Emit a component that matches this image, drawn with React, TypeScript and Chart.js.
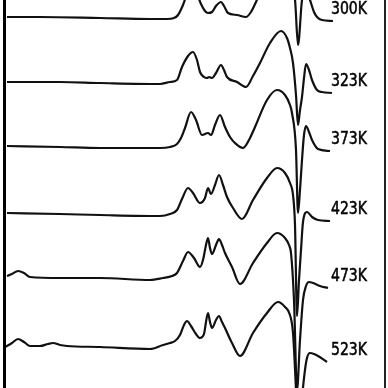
import React, { useEffect, useRef } from "react";
import { Chart, registerables } from "chart.js";

Chart.register(...registerables);

// Temperatures of the stacked spectra (top to bottom)
const temperatures = ["300K", "323K", "373K", "423K", "473K", "523K"];

// Vertical offset of each spectrum's baseline (figure units, bottom = 0)
const baselineOffsets = [370, 305, 241, 174, 111, 42];

// Each spectrum: [field (arb. units), intensity relative to its baseline]
const trace300K: [number, number][] = [
  [7, 1], [40, 1], [100, 0], [150, -1], [167, -1], [174, 0], [178, 3], [183, 13],
  [187, 24], [192, 31], [197, 24], [201, 14], [205, 7], [208, 5], [212, 6], [216, 12],
  [221, 16], [224, 12], [228, 5], [237, 3], [246, 1], [251, 6], [256, 16], [262, 30],
  [270, 45], [280, 53], [286, 48], [291, 28], [295, 18], [298, -27], [302, 18], [306, 28],
  [310, 18], [314, 6], [317, 1], [322, -2], [333, -3],
];
const trace323K: [number, number][] = [
  [7, 1], [60, 1], [100, 0], [160, -1], [170, 1], [177, 3], [182, 16], [188, 27],
  [193, 31], [197, 23], [200, 11], [204, 6], [207, 5], [209, 6], [212, 5], [216, 10],
  [221, 18], [224, 13], [227, 6], [237, 1], [246, -4], [253, 7], [260, 20], [270, 40],
  [281, 52], [287, 45], [290, 35], [293, 20], [296, -12], [298, -42], [300, -27], [302, -14],
  [304, 5], [306, 19], [309, 13], [312, 3], [317, -7], [322, -9], [332, -10],
];
const trace373K: [number, number][] = [
  [7, 1], [60, 0], [100, -1], [160, -1], [170, 0], [177, 3], [181, 9], [185, 19],
  [191, 35], [196, 27], [202, 12], [208, 14], [211, 12], [215, 22], [220, 32], [225, 20],
  [230, 10], [235, 4], [243, -1], [249, 7], [255, 20], [267, 47], [277, 57], [285, 52],
  [290, 42], [292, 34], [296, -3], [298, -66], [300, -43], [302, -13], [304, 12], [306, 21],
  [309, 15], [312, 7], [318, -2], [330, -4],
];
const trace423K: [number, number][] = [
  [7, 1], [60, 0], [100, -1], [160, -2], [170, 0], [177, 4], [182, 15], [188, 26],
  [193, 21], [200, 11], [205, 16], [208, 26], [211, 20], [215, 29], [219, 39], [223, 29],
  [227, 17], [233, 6], [242, -5], [253, 14], [267, 36], [277, 46], [285, 41], [290, 31],
  [293, 19], [295, -11], [297, -102], [299, -66], [301, -36], [303, -8], [307, 2], [312, -3],
  [318, -6], [330, -7],
];
const trace473K: [number, number][] = [
  [7, 1], [12, 3], [18, 6], [24, 4], [30, 0], [60, -1], [100, -1], [150, -3],
  [163, -1], [172, 1], [177, 4], [183, 16], [188, 25], [194, 19], [200, 10], [203, 17],
  [206, 32], [208, 39], [210, 29], [212, 23], [216, 32], [219, 38], [222, 32], [225, 24],
  [232, 10], [240, -7], [253, 14], [267, 34], [277, 44], [285, 39], [289, 32], [291, 24],
  [294, -23], [297, -113], [300, -63], [303, -23], [306, -9], [309, -5], [313, -6], [320, -9],
  [328, -11],
];
const trace523K: [number, number][] = [
  [5, -1], [12, 3], [18, 7], [24, 4], [30, 0], [40, 0], [48, 2], [53, 3],
  [60, 1], [67, 0], [100, -1], [150, -3], [163, 1], [170, 3], [175, 5], [180, 11],
  [184, 21], [187, 25], [191, 20], [196, 12], [200, 8], [204, 12], [206, 24], [208, 33],
  [210, 24], [212, 18], [216, 26], [219, 30], [222, 24], [225, 18], [232, 3], [240, -10],
  [253, 13], [267, 33], [278, 44], [285, 39], [290, 31], [293, 13], [296, -44], [299, -114],
  [302, -54], [305, -24], [307, -12], [310, -7], [314, -8], [318, -10], [327, -16],
];

const traces = [trace300K, trace323K, trace373K, trace423K, trace473K, trace523K];

// Field at which the temperature labels start
const labelField = 331;

export default function App() {
  const canvasRef = useRef<HTMLCanvasElement | null>(null);

  useEffect(() => {
    if (!canvasRef.current) return;

    const decor = {
      id: "decor",
      beforeDraw(chart: any) {
        const { ctx } = chart;
        ctx.save();
        ctx.fillStyle = "#ffffff";
        ctx.fillRect(0, 0, chart.width, chart.height);
        ctx.restore();
      },
      afterDatasetsDraw(chart: any) {
        const { ctx, chartArea } = chart;
        ctx.save();
        ctx.font = '18px "DejaVu Sans Condensed", "DejaVu Sans", sans-serif';
        ctx.fillStyle = "#000";
        ctx.textBaseline = "alphabetic";
        const lx = chart.scales.x.getPixelForValue(labelField);
        chart.data.datasets.forEach((_: any, i: number) => {
          const meta = chart.getDatasetMeta(i);
          const last = meta.data[meta.data.length - 1];
          const w = ctx.measureText(temperatures[i]).width;
          const sx = 36 / w;
          ctx.save();
          ctx.translate(lx, last.y - 14 + 6.5);
          ctx.scale(sx, 1);
          ctx.fillText(temperatures[i], 0, 0);
          ctx.lineWidth = 0.5;
          ctx.strokeStyle = "#000";
          ctx.strokeText(temperatures[i], 0, 0);
          ctx.restore();
        });
        // frame lines of the scanned figure
        ctx.fillStyle = "#000";
        ctx.fillRect(chartArea.left + 3, chartArea.top, 3, chartArea.bottom - chartArea.top);
        ctx.fillStyle = "#222";
        ctx.fillRect(chartArea.right - 4, chartArea.top, 2, chartArea.bottom - chartArea.top);
        ctx.restore();
      },
    };

    const chart = new Chart(canvasRef.current, {
      type: "line",
      data: {
        datasets: traces.map((tr, i) => ({
          label: temperatures[i],
          data: tr.map(([x, v]) => ({ x, y: v + baselineOffsets[i] })),
          borderColor: "#111",
          borderWidth: 2.2,
          pointRadius: 0,
          fill: false,
          cubicInterpolationMode: "monotone" as const,
        })),
      },
      options: {
        responsive: false,
        animation: false,
        maintainAspectRatio: false,
        layout: { padding: 0 },
        plugins: {
          legend: { display: false },
          tooltip: { enabled: false },
        },
        scales: {
          x: { type: "linear", min: 0, max: 388, display: false },
          y: { type: "linear", min: 0, max: 388, display: false },
        },
      },
      plugins: [decor],
    });

    return () => chart.destroy();
  }, []);

  return (
    <div style={{ position: "fixed", left: 0, top: 0, width: 388, height: 388, background: "#fff" }}>
      <canvas ref={canvasRef} width={388} height={388} />
    </div>
  );
}
